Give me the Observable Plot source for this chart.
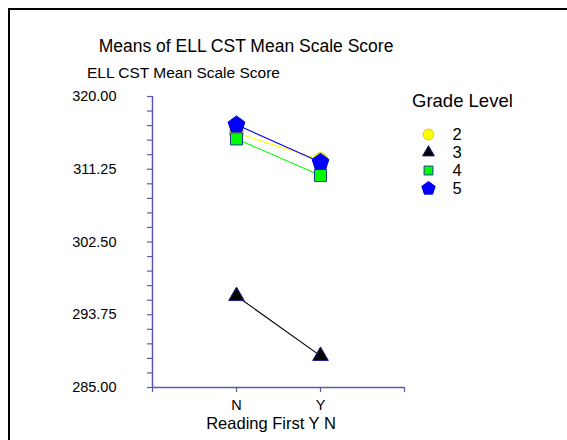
<!DOCTYPE html>
<html><head><meta charset="utf-8">
<script src="https://cdn.jsdelivr.net/npm/d3@7"></script>
<script src="https://cdn.jsdelivr.net/npm/@observablehq/plot@0.6"></script>
<style>
body{margin:0;background:#fff;font-family:"Liberation Sans",Arial,sans-serif;}
#wrap{position:relative;width:567px;height:440px;overflow:hidden;background:#fff;}
#frame{position:absolute;left:8px;top:8px;width:620px;height:520px;border-left:2px solid #000;border-top:2px solid #000;}
.t{position:absolute;white-space:nowrap;color:#000;line-height:1;}
#main,#legend{position:absolute;}
#main{left:0;top:0;}
svg{overflow:visible;}
#main svg g[aria-label$="axis"] line, #main svg g[aria-label$="axis"] path,
#main svg g[aria-label*="axis tick"] path, #main svg g[aria-label*="axis tick"] line{stroke:#5a5ab0;stroke-width:1.2;}
#main svg g[aria-label*="axis"] text{fill:#000;font-size:14.5px;}
</style></head><body>
<div id="wrap">
<div id="frame"></div>
<div id="main"></div>
<div id="legend"></div>
<div class="t" style="left:246px;top:38px;font-size:17.5px;transform:translateX(-50%)">Means of ELL CST Mean Scale Score</div>
<div class="t" style="left:87px;top:65px;font-size:15.5px">ELL CST Mean Scale Score</div>
<div class="t" style="left:412px;top:91.5px;font-size:18.5px">Grade Level</div>
<div class="t" style="left:271px;top:414.5px;font-size:16.5px;transform:translateX(-50%)">Reading First Y N</div>
</div>
<script>
// ---- data ----
const categories = ["N", "Y"];
const grades = ["2", "3", "4", "5"];
const grade2 = [315.6, 312.4];
const grade3 = [296.0, 288.8];
const grade4 = [314.9, 310.5];
const grade5 = [316.6, 312.1];
const yTickLabels = [285, 293.75, 302.5, 311.25, 320];
const yMinorTicks = [285, 286.75, 288.5, 290.25, 292, 293.75, 295.5, 297.25, 299, 300.75, 302.5,
  304.25, 306, 307.75, 309.5, 311.25, 313, 314.75, 316.5, 318.25, 320];
const xTickPositions = [0, 1, 2, 3];

// ---- styles ----
const axisColor = "#5a5ab0";
const pentagon = {
  draw(ctx, size) {
    const R = Math.sqrt(size / Math.PI);
    for (let i = 0; i < 5; i++) {
      const a = -Math.PI / 2 + i * 2 * Math.PI / 5;
      const px = R * Math.cos(a), py = R * Math.sin(a);
      if (i === 0) ctx.moveTo(px, py); else ctx.lineTo(px, py);
    }
    ctx.closePath();
  }
};
const styles = {
  "2": {symbol: "circle", fill: "#ffff00", stroke: "#d8c800", line: "#ffff00", r: 7, lr: 5.4},
  "3": {symbol: "triangle", fill: "#000000", stroke: "#1a1a8c", line: "#000000", r: 5.8, lr: 4.4},
  "4": {symbol: "square", fill: "#00ff00", stroke: "#1a3c8c", line: "#00ff00", r: 6.8, lr: 5},
  "5": {symbol: pentagon, fill: "#0000ff", stroke: "#0000cc", line: "#0000ff", r: 8.8, lr: 7}
};
const seriesValues = {"2": grade2, "3": grade3, "4": grade4, "5": grade5};
const rows = grades.flatMap(g => categories.map((c, i) => ({grade: g, cat: c, xi: i + 1, value: seriesValues[g][i]})));

const isLabel = v => yTickLabels.some(t => Math.abs(t - v) < 1e-6);

const marks = [
  Plot.ruleX([0], {stroke: axisColor, strokeWidth: 1.5}),
  Plot.ruleY([285], {stroke: axisColor, strokeWidth: 1.5})
];
for (const g of grades) {
  const d = rows.filter(r => r.grade === g);
  marks.push(Plot.line(d, {x: "xi", y: "value", stroke: styles[g].line, strokeWidth: 1.1}));
}
for (const g of grades) {
  const d = rows.filter(r => r.grade === g);
  const s = styles[g];
  marks.push(Plot.dot(d, {x: "xi", y: "value", symbol: s.symbol, fill: s.fill, stroke: s.stroke, strokeWidth: 1, r: s.r}));
}

const chart = Plot.plot({
  width: 567, height: 440,
  marginLeft: 152, marginRight: 163, marginTop: 96, marginBottom: 53,
  style: {background: "transparent", fontFamily: "Liberation Sans, Arial, sans-serif", fontSize: "14.5px", color: "#000"},
  x: {type: "linear", domain: [0, 3], ticks: xTickPositions, tickSize: 5, tickPadding: 7,
      tickFormat: d => (d >= 1 && d <= 2 && Number.isInteger(d)) ? categories[d - 1] : "", label: null},
  y: {domain: [285, 320], ticks: yMinorTicks, tickSize: 5, tickPadding: 31,
      tickFormat: d => isLabel(d) ? d.toFixed(2) : "", label: null},
  marks
});
document.getElementById("main").appendChild(chart);

// ---- legend ----
const legendMarks = [];
for (const g of grades) {
  const s = styles[g];
  legendMarks.push(Plot.dot([g], {x: () => 0, y: d => d, symbol: s.symbol, fill: s.fill, stroke: s.stroke, strokeWidth: 1, r: s.lr}));
}
legendMarks.push(Plot.text(grades, {x: () => 1, y: d => d, text: d => d, textAnchor: "start", fontSize: 16.5, fill: "#000"}));
const legend = Plot.plot({
  width: 70, height: 80,
  margin: 0,
  style: {background: "transparent", fontFamily: "Liberation Sans, Arial, sans-serif"},
  x: {type: "linear", domain: [0, 1], range: [23, 47], axis: null},
  y: {type: "point", domain: grades, range: [10.5, 10.5 + 3 * 18.5], padding: 0, axis: null},
  marks: legendMarks
});
const lg = document.getElementById("legend");
lg.style.left = "405px";
lg.style.top = "123px";
lg.appendChild(legend);
</script>
</body></html>
